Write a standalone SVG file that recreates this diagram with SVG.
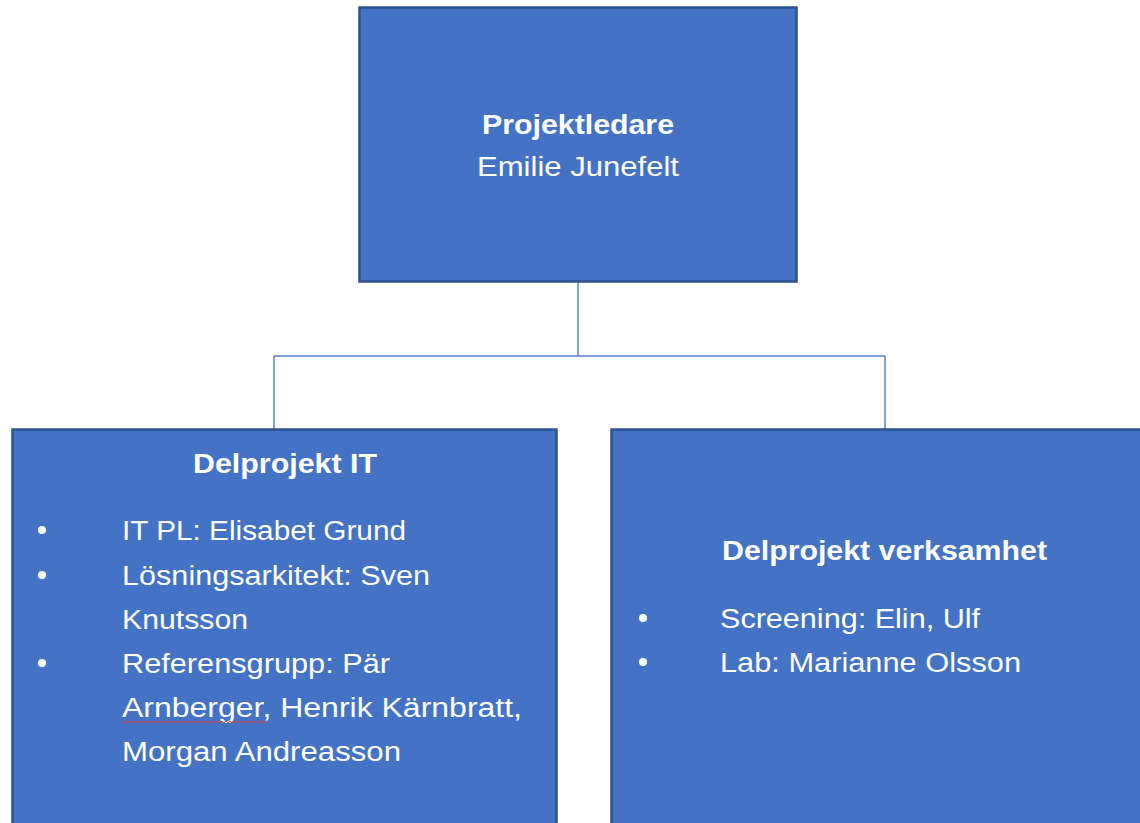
<svg xmlns="http://www.w3.org/2000/svg" width="1140" height="823" viewBox="0 0 1140 823">
<style>
.box{fill:#4472C4;stroke:#2F528F;stroke-width:2.5}
.t{font-family:"Liberation Sans",Arial,sans-serif;font-size:27px;fill:#FFFFFF}
.b{font-weight:bold}
.conn{fill:none;stroke:#5B84CC;stroke-width:1.5}
</style>
<rect width="1140" height="823" fill="#FFFFFF"/>
<g id="connectors">
<path class="conn" d="M578,282 V356 M274,356 H885 M274,356 V429 M885,356 V429"/>
</g>
<g id="node-projektledare">
<rect class="box" x="359.5" y="7.5" width="437" height="274"/>
<text class="t b" x="578" y="134" text-anchor="middle" textLength="192" lengthAdjust="spacingAndGlyphs">Projektledare</text>
<text class="t" x="578" y="176" text-anchor="middle" textLength="202" lengthAdjust="spacingAndGlyphs">Emilie Junefelt</text>
</g>
<g id="node-delprojekt-it">
<rect class="box" x="12.5" y="429.5" width="544" height="410"/>
<text class="t b" x="285" y="473" text-anchor="middle" textLength="184" lengthAdjust="spacingAndGlyphs">Delprojekt IT</text>
<circle cx="42" cy="530" r="4" fill="#FFFFFF"/>
<circle cx="42" cy="575" r="4" fill="#FFFFFF"/>
<circle cx="42" cy="663" r="4" fill="#FFFFFF"/>
<text class="t" x="122" y="540" textLength="284" lengthAdjust="spacingAndGlyphs">IT PL: Elisabet Grund</text>
<text class="t" x="122" y="585" textLength="308" lengthAdjust="spacingAndGlyphs">Lösningsarkitekt: Sven</text>
<text class="t" x="122" y="629" textLength="126" lengthAdjust="spacingAndGlyphs">Knutsson</text>
<text class="t" x="122" y="673" textLength="268" lengthAdjust="spacingAndGlyphs">Referensgrupp: Pär</text>
<text class="t" x="122" y="717" textLength="400" lengthAdjust="spacingAndGlyphs">Arnberger, Henrik Kärnbratt,</text>
<text class="t" x="122" y="761" textLength="279" lengthAdjust="spacingAndGlyphs">Morgan Andreasson</text>
<path d="M122,721 l2,2 l2,-2 l2,2 l2,-2 l2,2 l2,-2 l2,2 l2,-2 l2,2 l2,-2 l2,2 l2,-2 l2,2 l2,-2 l2,2 l2,-2 l2,2 l2,-2 l2,2 l2,-2 l2,2 l2,-2 l2,2 l2,-2 l2,2 l2,-2 l2,2 l2,-2 l2,2 l2,-2 l2,2 l2,-2 l2,2 l2,-2 l2,2 l2,-2 l2,2 l2,-2 l2,2 l2,-2 l2,2 l2,-2 l2,2 l2,-2 l2,2 l2,-2 l2,2 l2,-2 l2,2 l2,-2 l2,2 l2,-2 l2,2 l2,-2 l2,2 l2,-2 l2,2 l2,-2 l2,2 l2,-2 l2,2 l2,-2 l2,2 l2,-2 l2,2 l2,-2 l2,2 l2,-2 l2,2 l2,-2 l2,2 l2,-2 l2,2" fill="none" stroke="#E0404A" stroke-width="1"/>
</g>
<g id="node-delprojekt-verksamhet">
<rect class="box" x="611.5" y="429.5" width="545" height="410"/>
<text class="t b" x="722" y="560" textLength="325" lengthAdjust="spacingAndGlyphs">Delprojekt verksamhet</text>
<circle cx="643" cy="618" r="4" fill="#FFFFFF"/>
<circle cx="643" cy="662" r="4" fill="#FFFFFF"/>
<text class="t" x="720" y="628" textLength="260" lengthAdjust="spacingAndGlyphs">Screening: Elin, Ulf</text>
<text class="t" x="720" y="672" textLength="301" lengthAdjust="spacingAndGlyphs">Lab: Marianne Olsson</text>
</g>
</svg>
